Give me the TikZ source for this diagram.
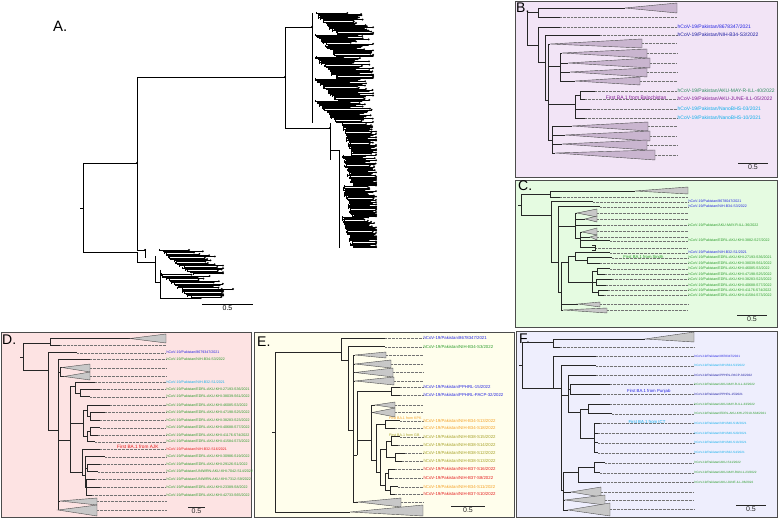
\documentclass[tikz,border=0pt]{standalone}
\usepackage{fontspec}
\setmainfont{Liberation Sans}
\usetikzlibrary{positioning}

\definecolor{bgB}{RGB}{242,228,246}
\definecolor{bgC}{RGB}{229,251,225}
\definecolor{bgD}{RGB}{253,227,227}
\definecolor{bgE}{RGB}{255,254,236}
\definecolor{bgF}{RGB}{238,238,253}
\definecolor{triB}{RGB}{201,181,207}
\definecolor{triG}{RGB}{200,200,200}
\definecolor{cBlue}{RGB}{35,35,225}
\definecolor{cNavy}{RGB}{25,25,160}
\definecolor{cGreen}{RGB}{40,155,40}
\definecolor{cTeal}{RGB}{45,140,95}
\definecolor{cCyan}{RGB}{15,175,235}
\definecolor{cPurple}{RGB}{125,25,145}
\definecolor{cRed}{RGB}{228,25,25}
\definecolor{cOrange}{RGB}{245,160,35}
\definecolor{cOlive}{RGB}{165,160,35}

% tree helpers: parent, name, x, y, ...
\newcommand{\inode}[4]{\coordinate (#2) at (#3,#4); \draw[branch] (#1) |- (#2);}
\newcommand{\stub}[4]{\coordinate (#2) at (#3,#4); \draw[branch] (#1) |- (#2);
  \draw[guide] (#2) -- (\tipx,#4);}
\newcommand{\leaf}[6]{\coordinate (#2) at (#3,#4); \draw[branch] (#1) |- (#2);
  \draw[guide] (#2) -- (\tipx,#4);
  \node[tiplab,text=#5] (#2-lab) at (\tipx,#4) {#6};}
\newcommand{\clade}[7]{\coordinate (#2) at (#3,#4); \draw[branch] (#1) |- (#2);
  \filldraw[tri] (#2) -- (#5,#6) -- (#5,#7) -- cycle;
  \draw[guide] (#5,{(#6+#7)/2}) -- (\tipx,{(#6+#7)/2});}
\newcommand{\scalebar}[4]{\coordinate (#1a) at (#2,#4); \coordinate (#1b) at (#3,#4);
  \draw[branch] (#1a) -- (#1b) node[midway, below=1.2pt, barlab] (#1lab) {0.5};}
% dense cluster: first y, step, last y, start x, ramp, ramp period, reach, limit
\newcommand{\thicket}[8]{%
  \foreach \k in {#1,#2,...,#3}{%
    \pgfmathsetmacro\xs{#4+#5*mod(\k-#1,#6)/#6+4*rnd}%
    \pgfmathsetmacro\xe{min(\xs+#7*(0.55+0.45*rnd),#8)}%
    \draw[abr] (\xs,\k) -- (\xe,\k) (\xs,\k-1.2) -- (\xs,\k+1.2);
    \fill (\xe,\k) circle (1.05);
  }}

\begin{document}
\begin{tikzpicture}[x=1pt, y=-1pt,
    branch/.style={line width=0.55pt, black!85},
    guide/.style={line width=0.35pt, densely dotted, black!55},
    tri/.style={fill=triG, draw=black!70, line width=0.4pt},
    tiplab/.style={anchor=west, inner sep=0.4pt, font=\fontsize{3.6}{4}\selectfont},
    note/.style={inner sep=0.4pt, font=\fontsize{4.5}{5}\selectfont},
    barlab/.style={inner sep=0.5pt, font=\fontsize{7}{7}\selectfont},
    panel/.style={draw=black!70, line width=0.8pt},
    tag/.style={anchor=west, inner sep=0pt, font=\fontsize{14}{14}\selectfont},
    abr/.style={line width=0.5pt, black}]
\useasboundingbox (0,0) rectangle (778,518);

% ---------- A. whole tree ----------
\begin{scope}[branch/.style={line width=0.6pt, black}]
\node[tag, font=\fontsize{15}{15}\selectfont] (Atag) at (53,26) {A.};
\coordinate (aR0) at (80,208);
\coordinate (aR) at (83,208);
\draw[branch] (aR0) -- (aR);
\inode{aR}{aU}{137}{163}
\inode{aR}{aL}{137}{252}
\inode{aU}{aM}{285}{77}
\inode{aU}{aV}{145}{250}
\inode{aM}{aT}{312}{27}
\inode{aM}{aW}{330}{128}
\inode{aW}{aW2}{339}{150}
\inode{aL}{aX}{155}{262}
\inode{aX}{aY}{160}{282}
\foreach \p in {aU,aV,aM,aT,aW} \fill (\p) circle (1.1);
\draw[abr] (312,13) -- (312,123) (330,123) -- (330,160) (339,150) -- (339,248)
  (145,249) -- (145,258) (155,256) -- (155,273) (160,270) -- (160,297);
\pgfmathsetseed{41}
\thicket{13}{14.1}{123}{314}{22}{22}{48}{373}
\thicket{124}{125.1}{248}{341}{10}{31}{34}{376}
\thicket{250}{251.3}{299}{158}{32}{24}{52}{223}
\coordinate (aTip) at (204,289); \coordinate (aTip2) at (233,289);
\draw[abr] (aTip) -- (aTip2); \fill (aTip2) circle (1.05);
\scalebar{aBar}{202}{253}{304}
\end{scope}

% ---------- B. Balochistan ----------
\begin{scope}[tri/.style={fill=triB, draw=black!70, line width=0.4pt},
    tiplab/.append style={font=\fontsize{5}{5}\selectfont}]
\def\tipx{677}
\filldraw[panel, fill=bgB] (515,1) rectangle (777,177);
\node[tag] (Btag) at (516,8) {B.};
\coordinate (bR) at (527,28);
\inode{bR}{bA}{538}{12}
\clade{bA}{bT0}{625}{8}{677}{3}{13}
\stub{bA}{bS0}{560}{17}
\inode{bR}{bB}{538}{45}
\leaf{bB}{bL1}{560}{27}{cBlue}{hCoV-19/Pakistan/8678347/2021}
\inode{bB}{bC}{545}{62}
\leaf{bC}{bL2}{600}{35}{cNavy}{hCoV-19/Pakistan/NIH-B34-S3/2022}
\inode{bC}{bD}{548}{100}
\clade{bD}{bT1}{550}{44}{642}{39}{48}
\inode{bD}{bE}{560}{66}
\clade{bE}{bT2}{562}{53}{647}{49}{58}
\clade{bE}{bT3}{568}{63}{650}{58}{68}
\clade{bE}{bT4}{570}{72}{647}{68}{77}
\clade{bE}{bT5}{575}{81}{640}{77}{85}
\inode{bD}{bF}{575}{104}
\inode{bF}{bH}{580}{95}
\leaf{bH}{bL3}{595}{91}{cTeal}{hCoV-19/Pakistan/AKU-MAY-R-ILL-40/2022}
\leaf{bH}{bL4}{585}{99}{cPurple}{hCoV-19/Pakistan/AKU-JUNE-ILL-05/2022}
\leaf{bF}{bL5}{590}{109}{cCyan}{hCoV-19/Pakistan/NanoBHS-03/2021}
\leaf{bF}{bL6}{585}{118}{cCyan}{hCoV-19/Pakistan/NanoBHS-10/2021}
\node[note, text=cPurple, font=\fontsize{5}{5}\selectfont, left=10pt of bL4-lab, yshift=1.5pt] (bNote) {First BA.1 from Balochistan};
\inode{bD}{bG}{552}{140}
\clade{bG}{bT6}{572}{126}{648}{122}{131}
\clade{bG}{bT7}{565}{135}{650}{131}{141}
\clade{bG}{bT8}{562}{144}{647}{140}{150}
\clade{bG}{bT9}{555}{153}{655}{150}{160}
\scalebar{bBar}{738}{768}{163}
\end{scope}

% ---------- C. Sindh ----------
\begin{scope}
\def\tipx{688}
\filldraw[panel, fill=bgC] (515,180) rectangle (777,327);
\node[tag] (Ctag) at (518,186) {C.};
\coordinate (cR0) at (518,205);
\coordinate (cR) at (521,205);
\draw[branch] (cR0) -- (cR);
\inode{cR}{cA}{550}{194}
\clade{cA}{cT0}{635}{191}{688}{187}{194}
\stub{cA}{cS0}{560}{197}
\inode{cR}{cB}{551}{215}
\leaf{cB}{cL1}{593}{201.7}{cBlue}{hCoV-19/Pakistan/8678047/2021}
\inode{cB}{cC}{558}{262}
\leaf{cC}{cL2}{600}{206.7}{cBlue}{hCoV-19/Pakistan/NIH-B34-S3/2022}
\inode{cC}{cD}{575}{226}
\clade{cD}{cT1}{577}{213}{597}{209}{217}
\clade{cD}{cT2}{585}{219}{597}{216}{222}
\leaf{cD}{cL3}{600}{225}{cGreen}{hCoV-19/Pakistan/AKU-MAY-R-ILL-36/2022}
\inode{cD}{cG}{580}{238}
\clade{cG}{cT3}{582}{232}{597}{228}{235}
\clade{cG}{cT4}{590}{237}{597}{235}{240}
\leaf{cG}{cL4}{610}{240.7}{cGreen}{hCoV-19/Pakistan/EDRL-AKU-KHI-3882-S27/2022}
\stub{cG}{cS1}{595}{247.7}
\inode{cS1}{cS2}{592}{245.5}
\inode{cS1}{cS3}{592}{250}
\inode{cC}{cE}{561}{292}
\inode{cE}{cI}{568}{262}
\inode{cI}{cJ}{575}{256}
\leaf{cJ}{cL5}{610}{252.7}{cBlue}{hCoV-19/Pakistan/NIH-B32-S1/2021}
\inode{cJ}{cM}{587}{260.5}
\leaf{cM}{cL6}{612}{257.7}{cGreen}{hCoV-19/Pakistan/EDRL-AKU-KHI-27193-S36/2021}
\leaf{cM}{cL7}{600}{263.3}{cGreen}{hCoV-19/Pakistan/EDRL-AKU-KHI-38039-S61/2022}
\node[note, text=cGreen, font=\fontsize{4.2}{5}\selectfont, left=24pt of cL6-lab, yshift=1pt] (cNote) {First BA.1 from Sindh};
\inode{cI}{cN}{592}{282}
\inode{cN}{cN1}{597}{271.3}
\leaf{cN1}{cL8}{610}{268.7}{cGreen}{hCoV-19/Pakistan/EDRL-AKU-KHI-46085-S3/2022}
\leaf{cN1}{cL9}{605}{274}{cGreen}{hCoV-19/Pakistan/EDRL-AKU-KHI-47198-S25/2022}
\inode{cN}{cN2}{596}{282.2}
\leaf{cN2}{cL10}{612}{279.3}{cGreen}{hCoV-19/Pakistan/EDRL-AKU-KHI-38283-S23/2022}
\leaf{cN2}{cL11}{606}{285}{cGreen}{hCoV-19/Pakistan/EDRL-AKU-KHI-40688-S77/2022}
\inode{cN}{cN3}{598}{292.7}
\leaf{cN3}{cL12}{608}{290}{cGreen}{hCoV-19/Pakistan/EDRL-AKU-KHI-41176-S74/2022}
\leaf{cN3}{cL13}{604}{295.3}{cGreen}{hCoV-19/Pakistan/EDRL-AKU-KHI-41584-S73/2022}
\clade{cE}{cT5}{578}{304}{600}{302}{307}
\clade{cE}{cT6}{563}{310}{607}{308}{313}
\scalebar{cBar}{737}{767}{315}
\end{scope}

% ---------- D. AJK ----------
\begin{scope}
\def\tipx{166}
\filldraw[panel, fill=bgD] (1,332) rectangle (251,517);
\node[tag] (Dtag) at (2,340) {D.};
\coordinate (dR0) at (20,357);
\coordinate (dR) at (23,357);
\draw[branch] (dR0) -- (dR);
\inode{dR}{dA}{50}{343}
\clade{dA}{dT0}{130}{338.5}{166}{334}{343}
\stub{dA}{dS0}{60}{345.5}
\inode{dR}{dB}{48}{370}
\leaf{dB}{dL1}{77}{352.7}{cBlue}{hCoV-19/Pakistan/8679347/2021}
\inode{dB}{dC}{58}{430}
\leaf{dC}{dL2}{90}{359}{cGreen}{hCoV-19/Pakistan/NIH-B34-S3/2022}
\inode{dC}{dD}{60}{372}
\clade{dD}{dT1}{62}{367.5}{90}{364}{372}
\clade{dD}{dT2}{64}{376.5}{90}{372}{380}
\inode{dC}{dE}{70}{440}
\inode{dE}{dG}{75}{386}
\leaf{dG}{dL3}{95}{382.3}{cCyan}{hCoV-19/Pakistan/NIH-B32-S1/2021}
\inode{dG}{dG2}{80}{393}
\leaf{dG2}{dL4}{100}{389}{cGreen}{hCoV-19/Pakistan/EDRL-AKU-KHI-27193-S36/2021}
\leaf{dG2}{dL5}{90}{396.7}{cGreen}{hCoV-19/Pakistan/EDRL-AKU-KHI-38039-S61/2022}
\inode{dE}{dH}{83}{423}
\inode{dH}{dH1}{87}{410}
\leaf{dH1}{dL6}{110}{405}{cGreen}{hCoV-19/Pakistan/EDRL-AKU-KHI-46085-S3/2022}
\inode{dH1}{dH1a}{90}{416}
\leaf{dH1a}{dL7}{105}{412.3}{cGreen}{hCoV-19/Pakistan/EDRL-AKU-KHI-47198-S25/2022}
\leaf{dH1a}{dL8}{100}{420}{cGreen}{hCoV-19/Pakistan/EDRL-AKU-KHI-38283-S23/2022}
\inode{dH}{dH2}{87}{436}
\inode{dH2}{dH2a}{90}{431.3}
\leaf{dH2a}{dL9}{100}{427.7}{cGreen}{hCoV-19/Pakistan/EDRL-AKU-KHI-40688-S77/2022}
\leaf{dH2a}{dL10}{98}{435}{cGreen}{hCoV-19/Pakistan/EDRL-AKU-KHI-41176-S74/2022}
\leaf{dH2}{dL11}{95}{441.7}{cGreen}{hCoV-19/Pakistan/EDRL-AKU-KHI-41584-S73/2022}
\inode{dE}{dI}{82}{472}
\leaf{dI}{dL12}{100}{449.3}{cRed}{hCoV-19/Pakistan/NIH-B32-S16/2021}
\node[note, text=cRed, font=\fontsize{4.7}{5}\selectfont, left=7pt of dL12-lab, yshift=2.5pt] (dNote) {First BA.1 from AJK};
\inode{dI}{dI1}{85}{475}
\leaf{dI1}{dL13}{105}{456.7}{cGreen}{hCoV-19/Pakistan/EDRL-AKU-KHI-30986-S19/2022}
\inode{dI1}{dI2}{87}{468}
\leaf{dI2}{dL14}{100}{464.3}{cGreen}{hCoV-19/Pakistan/EDRL-AKU-KHI-29126-S1/2022}
\leaf{dI2}{dL15}{98}{471.7}{cGreen}{hCoV-19/Pakistan/UNIWRN-AKU-KHI-7042-S14/2022}
\inode{dI1}{dI3}{86}{487}
\leaf{dI3}{dL16}{95}{479}{cGreen}{hCoV-19/Pakistan/UNIWRN-AKU-KHI-7312-S9/2022}
\leaf{dI3}{dL17}{100}{487.3}{cGreen}{hCoV-19/Pakistan/EDRL-AKU-KHI-23389-S8/2022}
\leaf{dI3}{dL18}{92}{495}{cGreen}{hCoV-19/Pakistan/EDRL-AKU-KHI-42733-S65/2022}
\inode{dC}{dF}{58}{505}
\clade{dF}{dT3}{60}{501}{97}{498}{505}
\clade{dF}{dT4}{58}{510}{97}{505}{516}
\scalebar{dBar}{188}{205}{507}
\end{scope}

% ---------- E. KPK and GB ----------
\begin{scope}[tiplab/.append style={font=\fontsize{4.3}{5}\selectfont}]
\def\tipx{423}
\filldraw[panel, fill=bgE] (254,332) rectangle (514,517);
\node[tag] (Etag) at (257,342) {E.};
\coordinate (eR0) at (272,432);
\coordinate (eR) at (275,432);
\draw[branch] (eR0) -- (eR);
\inode{eR}{eA}{341}{352}
\leaf{eA}{eL1}{385}{338.3}{cBlue}{hCoV-19/Pakistan/8678347/2021}
\inode{eA}{eC}{348}{360}
\leaf{eC}{eL2}{385}{346.7}{cGreen}{hCoV-19/Pakistan/NIH-B34-S3/2022}
\inode{eC}{eD}{353}{430}
\clade{eD}{eT1}{355}{355}{386}{352}{358}
\clade{eD}{eT2}{355}{364}{391}{360}{368}
\clade{eD}{eT3}{355}{372.5}{393}{368}{377}
\clade{eD}{eT4}{355}{381}{394}{377}{385}
\inode{eD}{eE}{357}{455}
\inode{eE}{eP}{391}{391.2}
\leaf{eP}{eL3}{400}{387.3}{cBlue}{hCoV-19/Pakistan/PPHRL-15/2022}
\leaf{eP}{eL4}{400}{395}{cBlue}{hCoV-19/Pakistan/PPHRL-PACP-32/2022}
\inode{eE}{eF}{371}{440}
\clade{eF}{eT5}{375}{405}{395}{402}{408}
\clade{eF}{eT6}{372}{412.5}{395}{408}{417}
\inode{eF}{eG}{376}{460}
\inode{eG}{eH}{385}{424.5}
\leaf{eH}{eL5}{400}{420.7}{cOrange}{hCoV-19/Pakistan/NIH-B34-S13/2022}
\leaf{eH}{eL6}{395}{428.3}{cOrange}{hCoV-19/Pakistan/NIH-B34-S18/2022}
\node[note, text=cOrange, font=\fontsize{3.6}{4}\selectfont, left=1pt of eL5-lab, yshift=2.5pt] (eNote1) {First BA.1 from KPK};
\inode{eG}{eI}{380}{472}
\inode{eI}{eJ}{386}{449}
\inode{eJ}{eJ1}{391}{440.8}
\leaf{eJ1}{eL7}{400}{436.7}{cOlive}{hCoV-19/Pakistan/NIH-B38-S15/2022}
\leaf{eJ1}{eL8}{398}{445}{cOlive}{hCoV-19/Pakistan/NIH-B38-S14/2022}
\node[note, text=cOlive, font=\fontsize{3.6}{4}\selectfont, left=3pt of eL7-lab, yshift=1.7pt] (eNote2) {First BA.1 from GB};
\inode{eJ}{eJ2}{395}{457}
\leaf{eJ2}{eL9}{405}{453.3}{cOlive}{hCoV-19/Pakistan/NIH-B38-S12/2022}
\leaf{eJ2}{eL10}{402}{461}{cOlive}{hCoV-19/Pakistan/NIH-B38-S13/2022}
\inode{eI}{eK}{385}{485}
\inode{eK}{eK1}{388}{473.6}
\leaf{eK1}{eL11}{395}{469}{cRed}{hCoV-19/Pakistan/NIH-B37-S16/2022}
\leaf{eK1}{eL12}{392}{478.3}{cRed}{hCoV-19/Pakistan/NIH-B37-S8/2022}
\inode{eK}{eK2}{390}{490.5}
\leaf{eK2}{eL13}{398}{486.7}{cOrange}{hCoV-19/Pakistan/NIH-B34-S11/2022}
\leaf{eK2}{eL14}{395}{494.3}{cRed}{hCoV-19/Pakistan/NIH-B37-S10/2022}
\clade{eD}{eT7}{358}{502}{401}{498}{507}
\clade{eR}{eT8}{350}{512}{423}{505}{516}
\scalebar{eBar}{451}{485}{506}
\end{scope}

% ---------- F. Punjab and ICT ----------
\begin{scope}[tiplab/.append style={font=\fontsize{3.1}{4}\selectfont}]
\def\tipx{694}
\filldraw[panel, fill=bgF] (516,331) rectangle (777,517);
\node[tag] (Ftag) at (519,339) {F.};
\coordinate (fR0) at (519,365);
\coordinate (fR) at (522,365);
\draw[branch] (fR0) -- (fR);
\inode{fR}{fA}{553}{342}
\clade{fA}{fT0}{645}{339}{694}{332}{342}
\stub{fA}{fS0}{560}{347}
\inode{fR}{fB}{553}{388}
\leaf{fB}{fL1}{596}{356}{cBlue}{hCoV-19/Pakistan/8678347/2021}
\inode{fB}{fC}{561}{388}
\leaf{fC}{fL2}{596}{365.7}{cCyan}{hCoV-19/Pakistan/NIH-B34-S3/2022}
\inode{fC}{fD}{568}{395}
\leaf{fD}{fL3}{596}{375}{cNavy}{hCoV-19/Pakistan/PPHRL-PACP-32/2022}
\inode{fD}{fD1}{570}{389.3}
\leaf{fD1}{fL4}{610}{384.3}{cGreen}{hCoV-19/Pakistan/AKU-MAY-R-ILL-32/2022}
\leaf{fD1}{fL5}{600}{394.3}{cNavy}{hCoV-19/Pakistan/PPHRL-15/2021}
\node[note, text=cBlue, font=\fontsize{4.3}{5}\selectfont, left=23pt of fL5-lab, yshift=2.5pt] (fNote1) {First BA.1 from Punjab};
\inode{fD}{fF}{580}{412}
\inode{fF}{fF1}{588}{408.8}
\leaf{fF1}{fL6}{610}{404}{cGreen}{hCoV-19/Pakistan/AKU-MAY-R-ILL-33/2022}
\leaf{fF1}{fL7}{612}{413.7}{cGreen}{hCoV-19/Pakistan/EDRL-AKU-KHI-27019-S34/2021}
\inode{fF}{fG}{594}{438}
\leaf{fG}{fL8}{600}{423.3}{cCyan}{hCoV-19/Pakistan/NIH-B40-S16/2021}
\leaf{fG}{fL9}{598}{433.3}{cCyan}{hCoV-19/Pakistan/NIH-B40-S20/2021}
\leaf{fG}{fL10}{598}{442.7}{cCyan}{hCoV-19/Pakistan/NIH-B40-S13/2021}
\leaf{fG}{fL11}{598}{452.7}{cCyan}{hCoV-19/Pakistan/NIH-B32-S4/2021}
\node[note, text=cCyan, font=\fontsize{4.3}{5}\selectfont, left=28pt of fL8-lab, yshift=1.6pt] (fNote2) {First BA.1 from ICT};
\inode{fC}{fK}{563}{490}
\inode{fK}{fE}{578}{472}
\inode{fE}{fE1}{594}{467.7}
\leaf{fE1}{fL12}{605}{462.7}{cGreen}{hCoV-19/Pakistan/AKU-S11/2022}
\leaf{fE1}{fL13}{600}{472.7}{cGreen}{hCoV-19/Pakistan/AKU-MAY-RUN-1-23/2022}
\leaf{fE}{fL14}{600}{482.3}{cGreen}{hCoV-19/Pakistan/AKU-JUNE-ILL-06/2022}
\clade{fK}{fT1}{571}{492}{601}{487}{497}
\clade{fK}{fT2}{565}{500}{605}{495}{505}
\clade{fK}{fT3}{568}{510}{610}{503}{516}
\scalebar{fBar}{736}{766}{505}
\end{scope}
\end{tikzpicture}
\end{document}
